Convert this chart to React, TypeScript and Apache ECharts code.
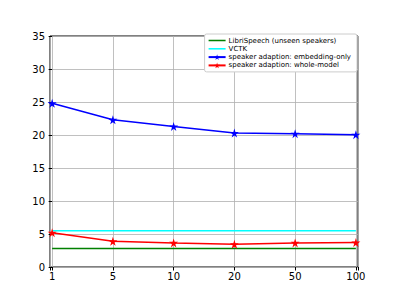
import React, { useEffect, useRef } from "react";
import * as echarts from "echarts";

const categories = ["1", "5", "10", "20", "50", "100"];
const libriSpeech = [2.8, 2.8, 2.8, 2.8, 2.8, 2.8];
const vctk = [5.5, 5.5, 5.5, 5.5, 5.5, 5.5];
const embeddingOnly = [24.8, 22.3, 21.3, 20.3, 20.2, 20.05];
const wholeModel = [5.2, 3.9, 3.65, 3.45, 3.65, 3.7];
const yTicks = [0, 5, 10, 15, 20, 25, 30, 35];

const STAR = "path://M50,0 L61,35 L98,35 L68,57 L79,91 L50,70 L21,91 L32,57 L2,35 L39,35 Z";
const LINE_ICON = "path://M0,0 L100,0 L100,9 L0,9 Z";
const FONT = "DejaVu Sans";

export default function App() {
  const ref = useRef<HTMLDivElement>(null);
  useEffect(() => {
    const chart = echarts.init(ref.current!, null, { renderer: "svg" });
    const toData = (arr: number[]) => arr.map((v, i) => [i, v]);
    const mk = (name: string, arr: number[], color: string, star: boolean) => ({
      name,
      type: "line",
      data: toData(arr),
      symbol: star ? STAR : "none",
      symbolSize: 9,
      showSymbol: star,
      lineStyle: { color, width: 1.5 },
      itemStyle: { color },
      z: 3,
    });
    chart.setOption({
      animation: false,
      backgroundColor: "#fff",
      textStyle: { fontFamily: FONT },
      grid: {
        left: 50,
        right: 41,
        top: 36,
        bottom: 32,
        show: true,
        borderColor: "#000",
        borderWidth: 1,
        backgroundColor: "transparent",
      },
      legend: {
        orient: "vertical",
        right: 42,
        top: 34,
        itemWidth: 17,
        itemHeight: 7,
        itemGap: 1.3,
        padding: [3, 6, 3, 3],
        backgroundColor: "#fff",
        borderColor: "#cccccc",
        borderWidth: 1,
        borderRadius: 2,
        textStyle: { fontSize: 7, fontFamily: FONT, color: "#000", padding: [0, 0, 0, -2] },
        data: [
          { name: "LibriSpeech (unseen speakers)", icon: LINE_ICON },
          { name: "VCTK", icon: LINE_ICON },
          { name: "speaker adaption: embedding-only" },
          { name: "speaker adaption: whole-model" },
        ],
      },
      xAxis: {
        type: "value",
        min: -0.035,
        max: 5.035,
        axisLine: { show: false },
        axisTick: { show: true, length: 3.5, lineStyle: { color: "#000" } },
        axisLabel: {
          fontSize: 10,
          color: "#000",
          fontFamily: FONT,
          margin: 4,
          formatter: (v: number) =>
            Number.isInteger(v) && v >= 0 && v < categories.length ? categories[v] : "",
        },
        splitLine: { show: true, lineStyle: { color: "#b0b0b0", width: 0.8 } },
      },
      yAxis: {
        type: "value",
        min: yTicks[0],
        max: yTicks[yTicks.length - 1],
        interval: 5,
        axisLine: { show: false },
        axisTick: { show: true, length: 3.5, lineStyle: { color: "#000" } },
        axisLabel: { fontSize: 10, color: "#000", fontFamily: FONT, margin: 5 },
        splitLine: { show: true, lineStyle: { color: "#b0b0b0", width: 0.8 } },
      },
      series: [
        mk("LibriSpeech (unseen speakers)", libriSpeech, "#008000", false),
        mk("VCTK", vctk, "#00ffff", false),
        mk("speaker adaption: embedding-only", embeddingOnly, "#0000ff", true),
        mk("speaker adaption: whole-model", wholeModel, "#ff0000", true),
      ],
    });
    return () => chart.dispose();
  }, []);
  return <div ref={ref} style={{ width: 399, height: 299, position: "absolute", left: 0, top: 0 }} />;
}
